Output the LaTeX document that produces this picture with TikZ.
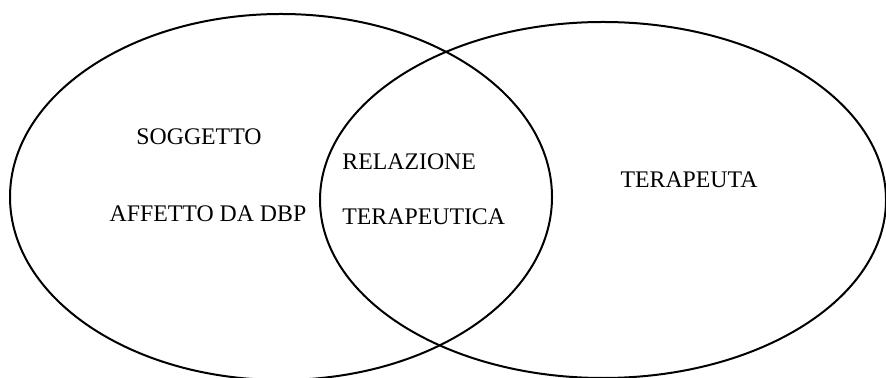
\documentclass[tikz,border=0pt]{standalone}
\usepackage{fontspec}
\setmainfont{Liberation Serif}
\begin{document}
\begin{tikzpicture}[x=0.5pt,y=-0.5pt,
  venn/.style={draw=black,line width=1pt},
  lbl/.style={inner sep=0pt,font=\fontsize{11.9}{14}\selectfont}]
\useasboundingbox (0,0) rectangle (886,378);
\draw[venn] (281,197) ellipse [x radius=135.5pt, y radius=91.5pt];
\draw[venn] (603,200) ellipse [x radius=141.5pt, y radius=89pt];
\node[lbl] (sog) at (199,137) {SOGGETTO};
\node[lbl] (aff) at (208,214) {AFFETTO DA DBP};
\node[lbl,anchor=west] (rel) at (342,162) {RELAZIONE};
\node[lbl,anchor=west] (ter) at (342,217) {TERAPEUTICA};
\node[lbl] (tpa) at (689,180) {TERAPEUTA};
\end{tikzpicture}
\end{document}
